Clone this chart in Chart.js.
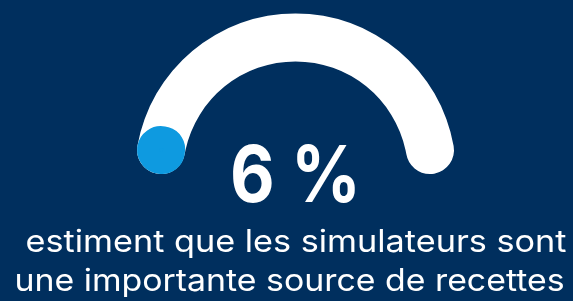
<!DOCTYPE html>
<html>
<head>
<meta charset="utf-8">
<script src="https://cdn.jsdelivr.net/npm/chart.js@4/dist/chart.umd.min.js"></script>
<style>
html, body { margin: 0; padding: 0; background: #002F5E; }
#wrap { position: relative; width: 573px; height: 301px; overflow: hidden; background: #002F5E; }
.layer { position: absolute; left: 0; top: 0; width: 573px; height: 301px; }
#txt { position: absolute; left: 0; top: 0; }
</style>
</head>
<body>
<div id="wrap">
  <div class="layer"><canvas id="track"></canvas></div>
  <div class="layer"><canvas id="value"></canvas></div>
  <svg id="txt" width="573" height="301" xmlns="http://www.w3.org/2000/svg"></svg>
</div>
<script>
// ---- data ----
const categories = ['Importante source de recettes', 'Autres réponses'];
const values = [6, 94];
const valueText = '6 %';
const captionLines = ['estiment que les simulateurs sont', 'une importante source de recettes'];

// ---- style / layout ----
const TRACK = '#FFFFFF';
const BLUE = '#0E9AE0';
const CX = 295.5, CY = 174;
const R_OUT = 160.6, R_IN = 112.6;
const THICK = R_OUT - R_IN;
const R_MID = (R_OUT + R_IN) / 2;
const STROKE = 22;
const V_OUT = R_MID + (THICK - STROKE) / 2;
const V_IN = R_MID - (THICK - STROKE) / 2;

const total = values.reduce((a, b) => a + b, 0);
const capAngle = Math.asin((THICK / 2) / R_MID) * 180 / Math.PI;
const valueSweep = values[0] / total * 180;

// shift the chart area so the doughnut centre lands on (CX, CY); starts from zero padding
function centerChart(chart) {
  const el = chart.getDatasetMeta(0).data[0];
  const dx = CX - el.x, dy = CY - el.y;
  chart.options.layout.padding = {
    left: Math.max(0, 2 * dx), right: Math.max(0, -2 * dx),
    top: Math.max(0, 2 * dy), bottom: Math.max(0, -2 * dy)
  };
  chart.update('none');
}

function baseOptions() {
  return {
    responsive: true, maintainAspectRatio: false, animation: false, events: [],
    circumference: 180,
    layout: { padding: { left: 0, right: 0, top: 0, bottom: 0 } },
    plugins: { legend: { display: false }, tooltip: { enabled: false } }
  };
}

const trackChart = new Chart(document.getElementById('track'), {
  type: 'doughnut',
  data: { labels: ['Total'], datasets: [{
    data: [total], backgroundColor: TRACK, borderWidth: 0,
    borderRadius: THICK / 2, hoverOffset: 0, clip: false
  }] },
  options: Object.assign(baseOptions(), {
    rotation: -90, radius: R_OUT, cutout: (R_IN / R_OUT * 100) + '%'
  })
});
centerChart(trackChart);

const valueChart = new Chart(document.getElementById('value'), {
  type: 'doughnut',
  data: { labels: categories, datasets: [{
    data: values,
    backgroundColor: [BLUE, 'rgba(0,0,0,0)'],
    borderColor: [BLUE, 'rgba(0,0,0,0)'],
    borderWidth: [STROKE, 0],
    borderAlign: 'center',
    borderJoinStyle: 'round',
    borderRadius: [(V_OUT - V_IN) / 2, 0],
    hoverOffset: 0, clip: false
  }] },
  options: Object.assign(baseOptions(), {
    rotation: -90 + capAngle - valueSweep / 2,
    radius: V_OUT, cutout: (V_IN / V_OUT * 100) + '%'
  })
});
centerChart(valueChart);

// ---- text ----
const NS = 'http://www.w3.org/2000/svg';
const svg = document.getElementById('txt');
function addText(str, x, y, size, weight, len) {
  const t = document.createElementNS(NS, 'text');
  t.setAttribute('x', x);
  t.setAttribute('y', y);
  t.setAttribute('text-anchor', 'middle');
  t.setAttribute('font-family', 'Inter, "Open Sans", sans-serif');
  t.setAttribute('font-size', size);
  t.setAttribute('font-weight', weight);
  t.setAttribute('fill', '#FFFFFF');
  t.setAttribute('textLength', len);
  t.setAttribute('lengthAdjust', 'spacingAndGlyphs');
  t.textContent = str;
  svg.appendChild(t);
}
addText(valueText, 295.5, 202, 78, 700, 131);
addText(captionLines[0], 296, 252, 31, 400, 541);
addText(captionLines[1], 289.5, 291, 31, 400, 550);
</script>
</body>
</html>
